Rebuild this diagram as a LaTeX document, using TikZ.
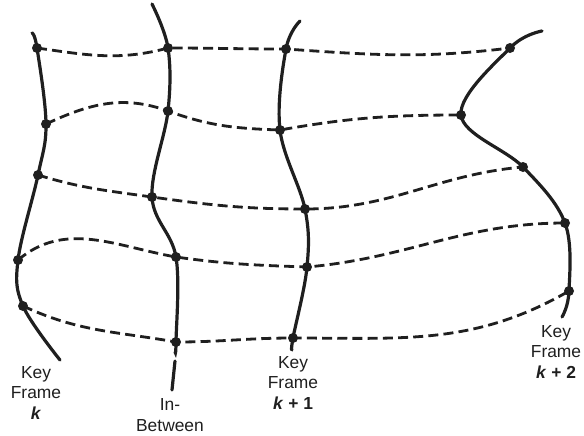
\documentclass[tikz,border=0pt]{standalone}
\usepackage{fontspec}
\setmainfont{Liberation Sans}
\usepackage{tikz}

\begin{document}
\begin{tikzpicture}[
  x=0.5pt, y=-0.5pt,
  dot/.style={circle, fill=black!88, inner sep=0pt, minimum size=5pt},
  keyline/.style={line width=1.6pt, draw=black!88, line cap=round},
  tween/.style={line width=1.4pt, draw=black!88, dash pattern=on 5pt off 2.6pt},
  lbl/.style={align=center, font=\fontsize{8.7}{10.2}\selectfont, text=black!88}
]
\useasboundingbox (0,0) rectangle (584,435);

% key frame k
\coordinate (katop) at (32,33);
\node[dot] (ka1) at (37,48) {};
\node[dot] (ka2) at (46,124) {};
\node[dot] (ka3) at (38,175) {};
\node[dot] (ka4) at (18,260) {};
\node[dot] (ka5) at (23,306) {};
\coordinate (kabot) at (60,360);

% in-between
\coordinate (ibtop) at (152,4);
\node[dot] (ib1) at (168,48) {};
\node[dot] (ib2) at (168,111) {};
\node[dot] (ib3) at (152,197) {};
\node[dot] (ib4) at (176,257) {};
\node[dot] (ib5) at (176,342) {};
\coordinate (ibend) at (175,352);
\coordinate (ibtailA) at (175,361);
\coordinate (ibtailB) at (172,390);

% key frame k+1
\coordinate (kbtop) at (300,21);
\node[dot] (kb1) at (286,49) {};
\node[dot] (kb2) at (280,130) {};
\node[dot] (kb3) at (305,209) {};
\node[dot] (kb4) at (307,267) {};
\node[dot] (kb5) at (293,338) {};
\coordinate (kbbot) at (292,350);

% key frame k+2
\coordinate (kctop) at (542,31);
\node[dot] (kc1) at (510,48) {};
\node[dot] (kc2) at (461,115) {};
\node[dot] (kc3) at (523,167) {};
\node[dot] (kc4) at (565,223) {};
\node[dot] (kc5) at (569,291) {};
\coordinate (kcbot) at (562,317);

% frame curves
\draw[keyline] plot[smooth, tension=0.6] coordinates {(katop) (ka1.center) (ka2.center) (ka3.center) (ka4.center) (ka5.center) (kabot)};
\draw[keyline] plot[smooth, tension=0.6] coordinates {(ibtop) (ib1.center) (ib2.center) (ib3.center) (ib4.center) (ib5.center) (ibend)};
\draw[keyline] (ibtailA) -- (ibtailB);
\draw[keyline] plot[smooth, tension=0.6] coordinates {(kbtop) (kb1.center) (kb2.center) (kb3.center) (kb4.center) (kb5.center) (kbbot)};
\draw[keyline] plot[smooth, tension=0.6] coordinates {(kctop) (kc1.center) (kc2.center) (kc3.center) (kc4.center) (kc5.center) (kcbot)};

% in-between paths
\draw[tween] (ka1.center) to[out=-8, in=195] (ib1.center) to[out=0, in=180] (kb1.center) to[out=-4, in=187] (kc1.center);
\draw[tween] (ka2.center) to[out=25, in=160] (ib2.center) to[out=-20, in=178] (kb2.center) to[out=10, in=180] (kc2.center);
\draw[tween] (ka3.center) to[out=-17, in=172] (ib3.center) to[out=-8, in=180] (kb3.center) to[out=0, in=185] (kc3.center);
\draw[tween] (ka4.center) to[out=40, in=170] (ib4.center) to[out=-8, in=178] (kb4.center) to[out=5, in=180] (kc4.center);
\draw[tween] (ka5.center) to[out=-25, in=170] (ib5.center) to[out=0, in=180] (kb5.center) to[out=0, in=210] (kc5.center);

% labels
\node[lbl] (labk) at (36,393) {Key\\Frame\\\textbf{\textit{k}}};
\node[lbl] (labib) at (170,415) {In-\\Between};
\node[lbl] (labkb) at (293,383) {Key\\Frame\\\textbf{\textit{k} + 1}};
\node[lbl] (labkc) at (556,352) {Key\\Frame\\\textbf{\textit{k} + 2}};
\end{tikzpicture}
\end{document}
